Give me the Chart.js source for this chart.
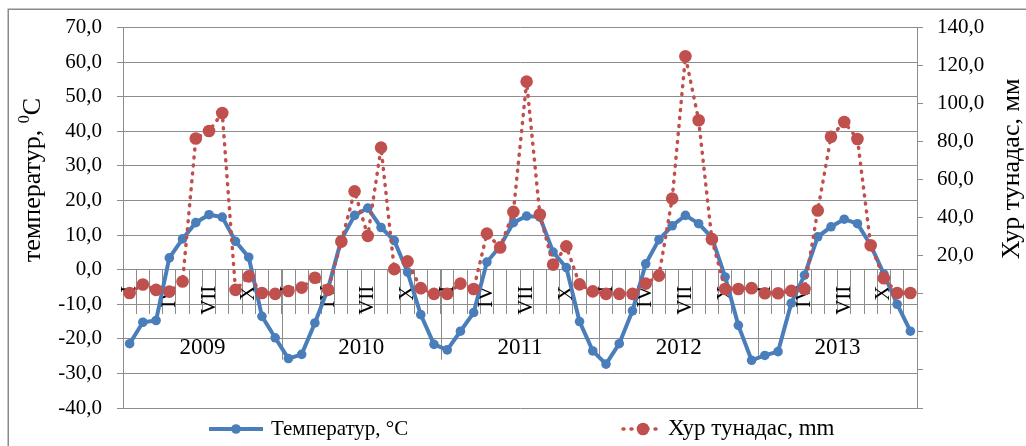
<!DOCTYPE html>
<html>
<head>
<meta charset="utf-8">
<script src="https://cdn.jsdelivr.net/npm/chart.js@4.4.0/dist/chart.umd.min.js"></script>
<style>
  html, body { margin: 0; padding: 0; background: #fff; }
  #wrap { width: 1026px; height: 446px; position: relative; }
</style>
</head>
<body>
<div id="wrap"><canvas id="c" width="1026" height="446"></canvas></div>
<script>
// Monthly series, January 2009 – December 2013
const months = ['I', 'II', 'III', 'IV', 'V', 'VI', 'VII', 'VIII', 'IX', 'X', 'XI', 'XII'];
const years = ['2009', '2010', '2011', '2012', '2013'];

// Air temperature, °C (left axis)
const temperature = [
  -21.4, -15.2, -14.7, 3.4, 8.9, 13.6, 15.9, 15.2, 8.2, 3.6, -13.5, -19.7,
  -25.7, -24.5, -15.4, -5.4, 8.7, 15.7, 17.8, 12.2, 8.4, -0.7, -13.0, -21.6,
  -23.2, -17.8, -12.4, 2.2, 6.8, 13.6, 15.5, 15.2, 5.1, 0.6, -15.0, -23.5,
  -27.3, -21.4, -11.9, 1.7, 8.7, 12.7, 15.7, 13.3, 9.3, -2.1, -16.1, -26.2,
  -24.8, -23.7, -9.7, -1.6, 9.5, 12.4, 14.6, 13.3, 7.1, -1.3, -10.0, -17.8
];

// Precipitation, mm (right axis)
const precipitation = [
  0.5, 4.9, 2.1, 1.2, 6.5, 81.7, 85.6, 95.1, 2.1, 9.2, 0.5, 0.0,
  1.5, 3.3, 8.5, 2.2, 27.5, 53.9, 30.5, 76.9, 13.0, 17.1, 3.0, 0.0,
  0.0, 5.4, 2.6, 31.7, 24.4, 43.1, 111.6, 41.7, 15.4, 25.0, 5.0, 1.3,
  0.0, 0.0, 0.0, 5.4, 9.6, 50.1, 124.9, 91.3, 28.7, 2.6, 2.6, 3.0,
  0.3, 0.3, 1.6, 2.6, 43.8, 82.6, 90.4, 81.4, 25.6, 8.2, 0.5, 0.5
];

// Axis ranges
const leftRange = { min: -40, max: 70, step: 10 };
const rightRange = { min: -60, max: 140, step: 20 };

const seriesNames = ['Температур, °C', 'Хур тунадас, mm'];
const axisTitles = { left: ['температур, ', '0', 'C'], right: 'Хур тунадас, мм' };

const categories = years.flatMap(yr => months.map(m => m + ' ' + yr));

const BLUE = '#4A7EBB';
const RED = '#C0504D';
const GRID = '#8c8c8c';
const SERIF = "'Liberation Serif', 'Times New Roman', serif";
const fmt = v => Number(v).toFixed(1).replace('.', ',');

const decor = {
  id: 'decor',
  beforeDraw(chart) {
    const { ctx, width, height } = chart;
    ctx.save();
    ctx.fillStyle = '#fff';
    ctx.fillRect(0, 0, width, height);
    ctx.strokeStyle = '#8a8a8a';
    ctx.lineWidth = 1.5;
    ctx.strokeRect(8.25, 9.25, width + 20, height + 20);
    ctx.restore();
  },
  beforeDatasetsDraw(chart) {
    const { ctx, scales: { x, y } } = chart;
    const y0 = y.getPixelForValue(0);
    const step = x.getPixelForValue(1) - x.getPixelForValue(0);
    ctx.save();
    // longer separators between the years
    ctx.strokeStyle = GRID;
    ctx.lineWidth = 1;
    for (let k = 0; k <= years.length; k++) {
      const px = Math.round(x.getPixelForValue(k * 12) - step / 2) + 0.5;
      ctx.beginPath();
      ctx.moveTo(px, y0);
      ctx.lineTo(px, y0 + 90);
      ctx.stroke();
    }
    // month labels (every third month), rotated
    ctx.fillStyle = '#000';
    ctx.font = `21px ${SERIF}`;
    ctx.textAlign = 'right';
    ctx.textBaseline = 'middle';
    categories.forEach((c, i) => {
      if (i % 3) return;
      ctx.save();
      ctx.translate(x.getPixelForValue(i), y0 + 16);
      ctx.rotate(-Math.PI / 2);
      ctx.fillText(months[i % 12], 0, 0);
      ctx.restore();
    });
    // year labels centred under each group
    ctx.font = `23px ${SERIF}`;
    ctx.textAlign = 'center';
    ctx.textBaseline = 'alphabetic';
    years.forEach((yr, k) => {
      const cx = (x.getPixelForValue(k * 12) + x.getPixelForValue(k * 12 + 11)) / 2;
      ctx.fillText(yr, cx, y0 + 84);
    });
    ctx.restore();
  },
  afterDraw(chart) {
    const { ctx } = chart;
    ctx.save();
    ctx.fillStyle = '#000';
    ctx.textBaseline = 'middle';

    // left axis title with superscript degree
    ctx.save();
    ctx.translate(33, 180);
    ctx.rotate(-Math.PI / 2);
    const big = `26px ${SERIF}`, small = `16px ${SERIF}`;
    ctx.font = big;
    const w1 = ctx.measureText(axisTitles.left[0]).width;
    const w3 = ctx.measureText(axisTitles.left[2]).width;
    ctx.font = small;
    const w2 = ctx.measureText(axisTitles.left[1]).width;
    const sx = -(w1 + w2 + w3) / 2;
    ctx.textAlign = 'left';
    ctx.font = big;
    ctx.fillText(axisTitles.left[0], sx, 0);
    ctx.font = small;
    ctx.fillText(axisTitles.left[1], sx + w1, -8);
    ctx.font = big;
    ctx.fillText(axisTitles.left[2], sx + w1 + w2, 0);
    ctx.restore();

    // right axis title
    ctx.save();
    ctx.translate(1012, 169);
    ctx.rotate(-Math.PI / 2);
    ctx.font = big;
    ctx.textAlign = 'center';
    ctx.fillText(axisTitles.right, 0, 0);
    ctx.restore();

    // legend
    const ly = 429;
    ctx.textAlign = 'left';
    ctx.strokeStyle = BLUE;
    ctx.lineWidth = 4;
    ctx.beginPath(); ctx.moveTo(209, ly); ctx.lineTo(263, ly); ctx.stroke();
    ctx.fillStyle = BLUE;
    ctx.beginPath(); ctx.arc(236, ly, 4.8, 0, Math.PI * 2); ctx.fill();
    ctx.fillStyle = '#000';
    ctx.font = `21px ${SERIF}`;
    ctx.fillText(seriesNames[0], 271, ly);

    ctx.strokeStyle = RED;
    ctx.lineWidth = 3.5;
    ctx.lineCap = 'round';
    ctx.setLineDash([1, 7]);
    ctx.beginPath(); ctx.moveTo(623, ly); ctx.lineTo(662, ly); ctx.stroke();
    ctx.setLineDash([]);
    ctx.fillStyle = RED;
    ctx.beginPath(); ctx.arc(643, ly, 6.3, 0, Math.PI * 2); ctx.fill();
    ctx.fillStyle = '#000';
    ctx.font = `23px ${SERIF}`;
    ctx.fillText(seriesNames[1], 668, ly);
    ctx.restore();
  }
};

new Chart(document.getElementById('c'), {
  type: 'line',
  data: {
    labels: categories,
    datasets: [
      {
        label: seriesNames[0],
        data: temperature,
        yAxisID: 'y',
        order: 1,
        borderColor: BLUE,
        backgroundColor: BLUE,
        borderWidth: 4,
        pointRadius: 4.8,
        pointBackgroundColor: BLUE,
        pointBorderColor: BLUE,
        pointBorderWidth: 0,
        tension: 0
      },
      {
        label: seriesNames[1],
        data: precipitation,
        yAxisID: 'y1',
        order: 0,
        borderColor: RED,
        backgroundColor: RED,
        borderWidth: 3.5,
        borderDash: [1, 7],
        borderCapStyle: 'round',
        pointRadius: 6.3,
        pointBackgroundColor: RED,
        pointBorderColor: RED,
        pointBorderWidth: 0,
        tension: 0
      }
    ]
  },
  options: {
    responsive: false,
    animation: false,
    devicePixelRatio: 1,
    layout: { padding: { top: 22, bottom: 38, left: 0, right: 0 } },
    plugins: { legend: { display: false }, tooltip: { enabled: false } },
    scales: {
      x: {
        type: 'category',
        position: { y: 0 },
        offset: true,
        grid: { display: true, drawOnChartArea: false, drawTicks: true, tickLength: 44, offset: true, color: GRID, lineWidth: 1 },
        border: { display: true, color: GRID, width: 1 },
        ticks: { display: false, autoSkip: false }
      },
      y: {
        position: 'left',
        min: leftRange.min,
        max: leftRange.max,
        ticks: { stepSize: leftRange.step, color: '#000', padding: 15, font: { family: SERIF, size: 21 }, callback: v => fmt(v) },
        grid: { color: GRID, lineWidth: 1, tickLength: 6, drawTicks: true },
        border: { display: true, color: GRID, width: 1 },
        afterFit(s) { s.width = 123; }
      },
      y1: {
        position: 'right',
        min: rightRange.min,
        max: rightRange.max,
        ticks: { stepSize: rightRange.step, color: '#000', padding: 14, font: { family: SERIF, size: 21 }, callback: v => (v > 0 ? fmt(v) : '') },
        grid: { drawOnChartArea: false, color: GRID, lineWidth: 1, tickLength: 6, drawTicks: true },
        border: { display: true, color: GRID, width: 1 },
        afterFit(s) { s.width = 109; }
      }
    }
  },
  plugins: [decor]
});
</script>
</body>
</html>
